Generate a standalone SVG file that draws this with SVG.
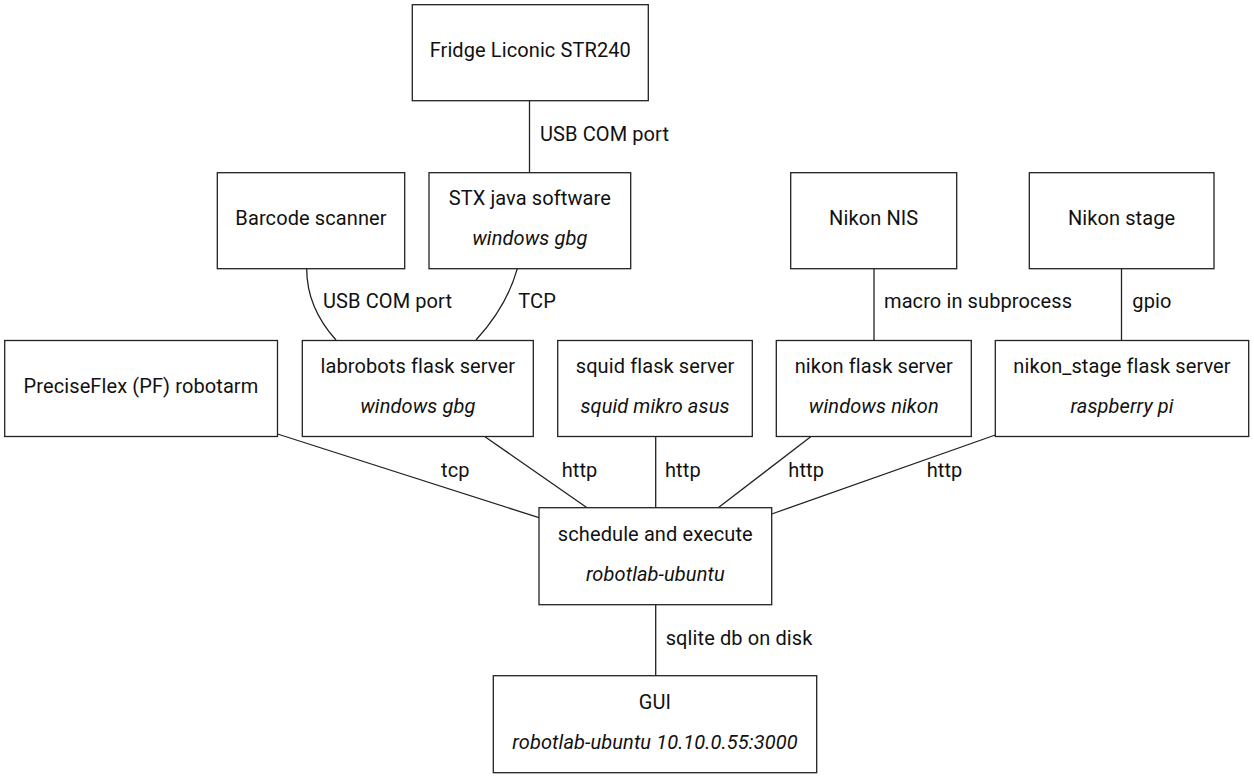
<svg xmlns="http://www.w3.org/2000/svg" width="1254" height="779" viewBox="0 0 1254 779">
<style>
.n{fill:#fff;stroke:#222;stroke-width:1.3}
.t{font-family:Roboto,"Liberation Sans",sans-serif;font-size:20px;letter-spacing:0.1px;fill:#111;text-anchor:middle}
.i{font-style:italic}
.l{font-family:Roboto,"Liberation Sans",sans-serif;font-size:20px;letter-spacing:0.1px;fill:#111}
.e{fill:none;stroke:#222;stroke-width:1.3}
</style>
<rect width="1254" height="779" fill="#fff"/>
<g id="connectors">
<line class="e" x1="529.5" y1="100.7" x2="529.5" y2="172.7"/>
<text class="l" x="540" y="140.5">USB COM port</text>
<path class="e" d="M306.7,268.7 C306.7,296 318,320 336,340"/>
<text class="l" x="323" y="308.3">USB COM port</text>
<path class="e" d="M517.3,268.7 C510,295 496,318 476,340"/>
<text class="l" x="518.3" y="308.3">TCP</text>
<line class="e" x1="874" y1="268.7" x2="874" y2="340"/>
<text class="l" x="884" y="308.3">macro in subprocess</text>
<line class="e" x1="1121.5" y1="268.7" x2="1121.5" y2="340"/>
<text class="l" x="1132.3" y="308.3">gpio</text>
<line class="e" x1="277.5" y1="434" x2="539" y2="517.7"/>
<text class="l" x="441" y="476.7">tcp</text>
<line class="e" x1="485" y1="436.7" x2="586.7" y2="507.5"/>
<text class="l" x="561.7" y="476.7">http</text>
<line class="e" x1="655.7" y1="436.7" x2="655.7" y2="507.5"/>
<text class="l" x="665" y="476.7">http</text>
<line class="e" x1="810.7" y1="436.7" x2="718.5" y2="507.5"/>
<text class="l" x="788.3" y="476.7">http</text>
<line class="e" x1="995.3" y1="435" x2="771.7" y2="514"/>
<text class="l" x="926.7" y="476.7">http</text>
<line class="e" x1="655.7" y1="605" x2="655.7" y2="675.7"/>
<text class="l" x="665.7" y="644.5">sqlite db on disk</text>
</g>
<g id="fridge">
<rect class="n" x="412.3" y="4.7" width="236" height="96"/>
<text class="t" x="530.3" y="57">Fridge Liconic STR240</text>
</g>
<g id="barcode">
<rect class="n" x="217.3" y="172.7" width="187.4" height="96"/>
<text class="t" x="311" y="225">Barcode scanner</text>
</g>
<g id="stx">
<rect class="n" x="429" y="172.7" width="201.7" height="96"/>
<text class="t" x="529.8" y="205">STX java software</text>
<text class="t i" x="529.8" y="245">windows gbg</text>
</g>
<g id="nikonnis">
<rect class="n" x="790.7" y="172.7" width="166" height="96"/>
<text class="t" x="873.7" y="225">Nikon NIS</text>
</g>
<g id="nikonstage">
<rect class="n" x="1029.3" y="172.7" width="184.7" height="96"/>
<text class="t" x="1121.6" y="225">Nikon stage</text>
</g>
<g id="pf">
<rect class="n" x="4.7" y="340.5" width="272.8" height="96"/>
<text class="t" x="141" y="393">PreciseFlex (PF) robotarm</text>
</g>
<g id="labrobots">
<rect class="n" x="302.3" y="340.5" width="231" height="96"/>
<text class="t" x="417.8" y="373.3">labrobots flask server</text>
<text class="t i" x="417.8" y="413">windows gbg</text>
</g>
<g id="squid">
<rect class="n" x="557.7" y="340.5" width="194.6" height="96"/>
<text class="t" x="655" y="373.3">squid flask server</text>
<text class="t i" x="655" y="413">squid mikro asus</text>
</g>
<g id="nikonflask">
<rect class="n" x="776.3" y="340.5" width="195" height="96"/>
<text class="t" x="873.8" y="373.3">nikon flask server</text>
<text class="t i" x="873.8" y="413">windows nikon</text>
</g>
<g id="nikonstageflask">
<rect class="n" x="995.3" y="340.5" width="253.4" height="96"/>
<text class="t" x="1122" y="373.3">nikon_stage flask server</text>
<text class="t i" x="1122" y="413">raspberry pi</text>
</g>
<g id="schedule">
<rect class="n" x="539" y="507.7" width="232.7" height="97"/>
<text class="t" x="655.3" y="540.7">schedule and execute</text>
<text class="t i" x="655.3" y="580.7">robotlab-ubuntu</text>
</g>
<g id="gui">
<rect class="n" x="493.3" y="675.7" width="323.4" height="97"/>
<text class="t" x="655" y="709">GUI</text>
<text class="t i" x="655" y="748.5">robotlab-ubuntu 10.10.0.55:3000</text>
</g>
</svg>
